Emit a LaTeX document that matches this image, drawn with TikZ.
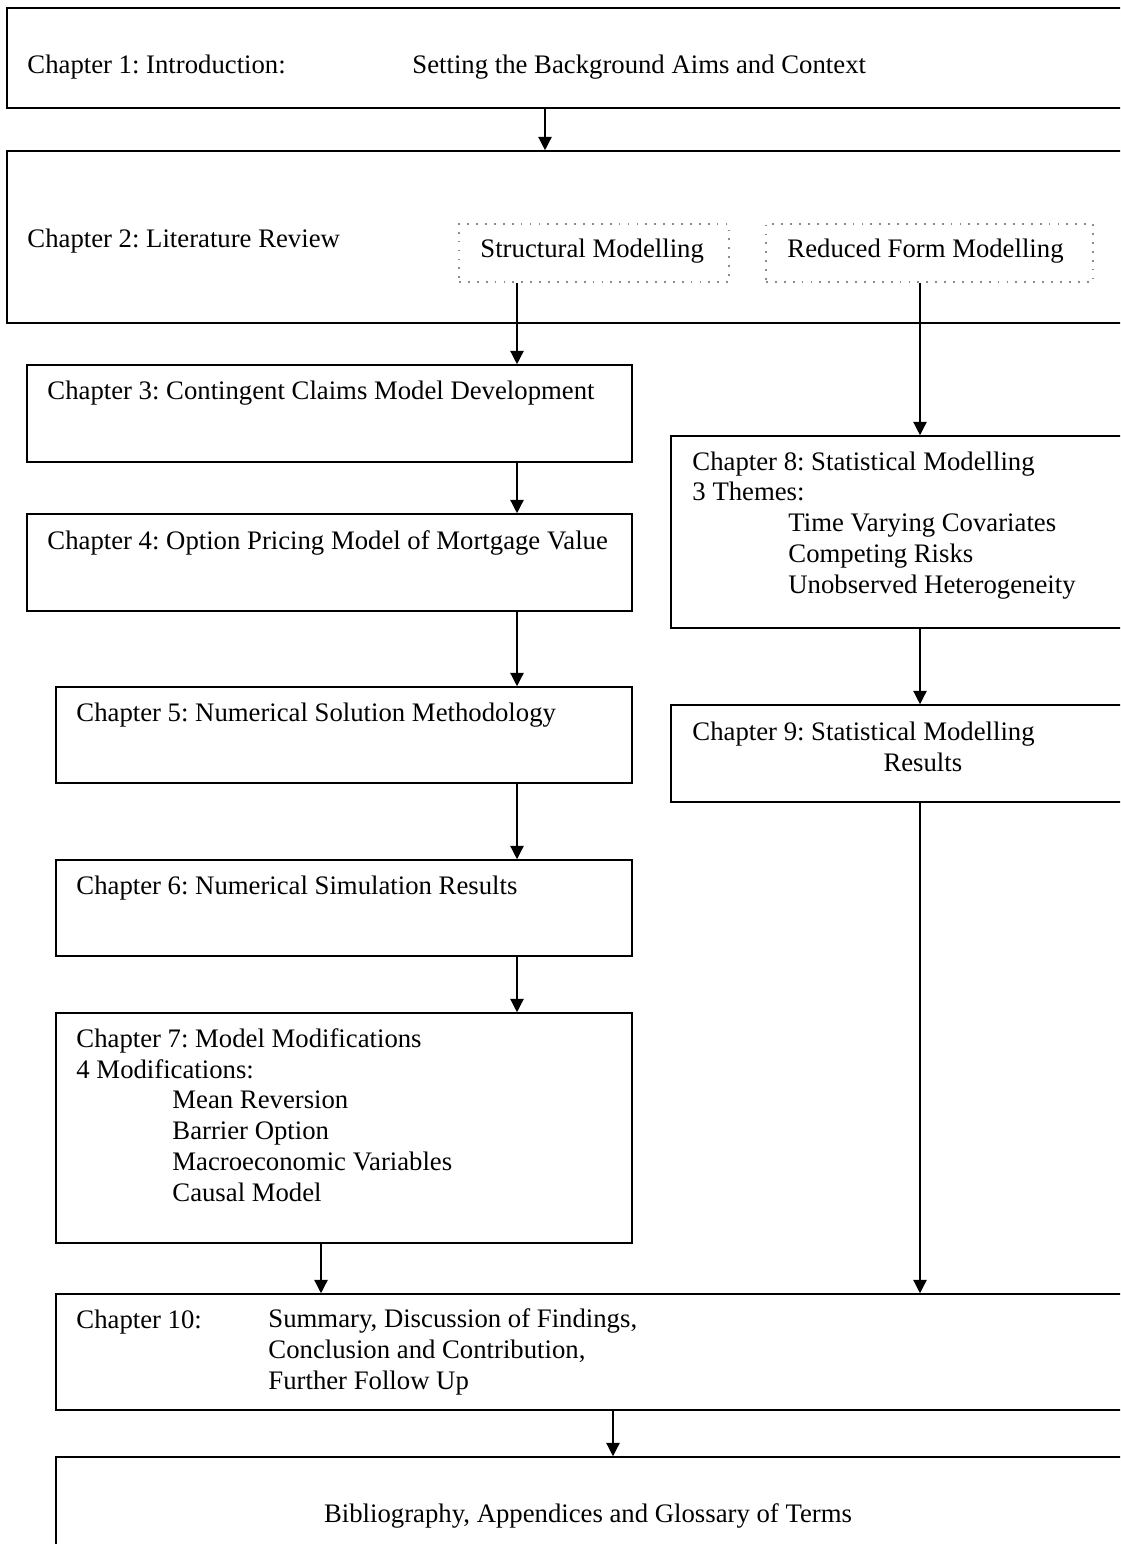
\documentclass[tikz,border=0pt]{standalone}
\usepackage{fontspec}
\setmainfont{Liberation Serif}
\usetikzlibrary{arrows.meta,positioning,fit,calc}
\frenchspacing
\definecolor{cDot}{RGB}{140,140,140}
\tikzset{
  chapbox/.style={rectangle,draw=black,line width=0.7pt,inner sep=0pt},
  dotbox/.style={rectangle,draw=cDot,line width=0.5pt,
                 dash pattern=on 0.8pt off 3.2pt,inner sep=0pt},
  txt/.style={inner sep=0pt,anchor=base west,align=left,
              font=\fontsize{12}{13.8}\selectfont},
  arr/.style={-{Triangle[length=6pt,width=6pt]},line width=0.6pt}
}

\begin{document}
\begin{tikzpicture}[x=0.449pt,y=-0.449pt]
  \useasboundingbox (0,0) rectangle (1120,1544);
  \clip (0,0) rectangle (1120,1544);

  % arrow columns
  \coordinate (topx) at (545,0);
  \coordinate (lx) at (517,0);
  \coordinate (rx) at (920,0);
  \coordinate (c7x) at (321,0);
  \coordinate (botx) at (613,0);

  % Chapter 1
  \node[chapbox,fit={(7,8) (1130,108)}] (c1) {};
  \node[txt] (t1) at (27,74) {Chapter 1: Introduction:};
  \node[txt] (t1b) at (412,74) {Setting the Background Aims and Context};

  % Chapter 2 with the two strands
  \node[chapbox,fit={(7,151) (1130,323)}] (c2) {};
  \node[txt] (t2) at (27,248) {Chapter 2: Literature Review};
  \node[dotbox,fit={(459,224) (729,282)}] (sm) {};
  \node[txt] (tsm) at (480,258) {Structural Modelling};
  \node[dotbox,fit={(766,224) (1093,282)}] (rm) {};
  \node[txt] (trm) at (787,258) {Reduced Form Modelling};

  % Structural strand
  \node[chapbox,fit={(27,365) (632,462)}] (c3) {};
  \node[txt] (t3) at (47,400) {Chapter 3: Contingent Claims Model Development};
  \node[chapbox,fit={(27,514) (632,611)}] (c4) {};
  \node[txt] (t4) at (47,549) {Chapter 4: Option Pricing Model of Mortgage Value};
  \node[chapbox,fit={(56,687) (632,783)}] (c5) {};
  \node[txt] (t5) at (76,721) {Chapter 5: Numerical Solution Methodology};
  \node[chapbox,fit={(56,860) (632,956)}] (c6) {};
  \node[txt] (t6) at (76,894) {Chapter 6: Numerical Simulation Results};
  \node[chapbox,fit={(56,1013) (632,1243)}] (c7) {};
  % multi-line texts sit on the baseline of their last line
  \node[txt] (t7) at (76,1201) {Chapter 7: Model Modifications\\
    4 Modifications:\\
    \hspace*{43.1pt}Mean Reversion\\
    \hspace*{43.1pt}Barrier Option\\
    \hspace*{43.1pt}Macroeconomic Variables\\
    \hspace*{43.1pt}Causal Model};

  % Reduced form strand
  \node[chapbox,fit={(671,436) (1130,628)}] (c8) {};
  \node[txt] (t8) at (692,593) {Chapter 8: Statistical Modelling\\
    3 Themes:\\
    \hspace*{43.1pt}Time Varying Covariates\\
    \hspace*{43.1pt}Competing Risks\\
    \hspace*{43.1pt}Unobserved Heterogeneity};
  \node[chapbox,fit={(671,705) (1130,802)}] (c9) {};
  \node[txt] (t9) at (692,771) {Chapter 9: Statistical Modelling\\
    \hspace*{85.8pt}Results};

  % Chapter 10 and back matter
  \node[chapbox,fit={(56,1294) (1130,1410)}] (c10) {};
  \node[txt] (t10) at (76,1328) {Chapter 10:};
  \node[txt] (t10b) at (268,1389) {Summary, Discussion of Findings,\\
    Conclusion and Contribution,\\
    Further Follow Up};
  \node[chapbox,fit={(56,1457) (1130,1560)}] (c11) {};
  \node[txt,anchor=base] (t11) at (588,1522)
    {Bibliography, Appendices and Glossary of Terms};

  % connectors
  \draw[arr] (c1.south -| topx) -- (c2.north -| topx);
  \draw[arr] (sm.south -| lx) -- (c3.north -| lx);
  \draw[arr] (c3.south -| lx) -- (c4.north -| lx);
  \draw[arr] (c4.south -| lx) -- (c5.north -| lx);
  \draw[arr] (c5.south -| lx) -- (c6.north -| lx);
  \draw[arr] (c6.south -| lx) -- (c7.north -| lx);
  \draw[arr] (rm.south -| rx) -- (c8.north -| rx);
  \draw[arr] (c8.south -| rx) -- (c9.north -| rx);
  \draw[arr] (c9.south -| rx) -- (c10.north -| rx);
  \draw[arr] (c7.south -| c7x) -- (c10.north -| c7x);
  \draw[arr] (c10.south -| botx) -- (c11.north -| botx);

\end{tikzpicture}
\end{document}
